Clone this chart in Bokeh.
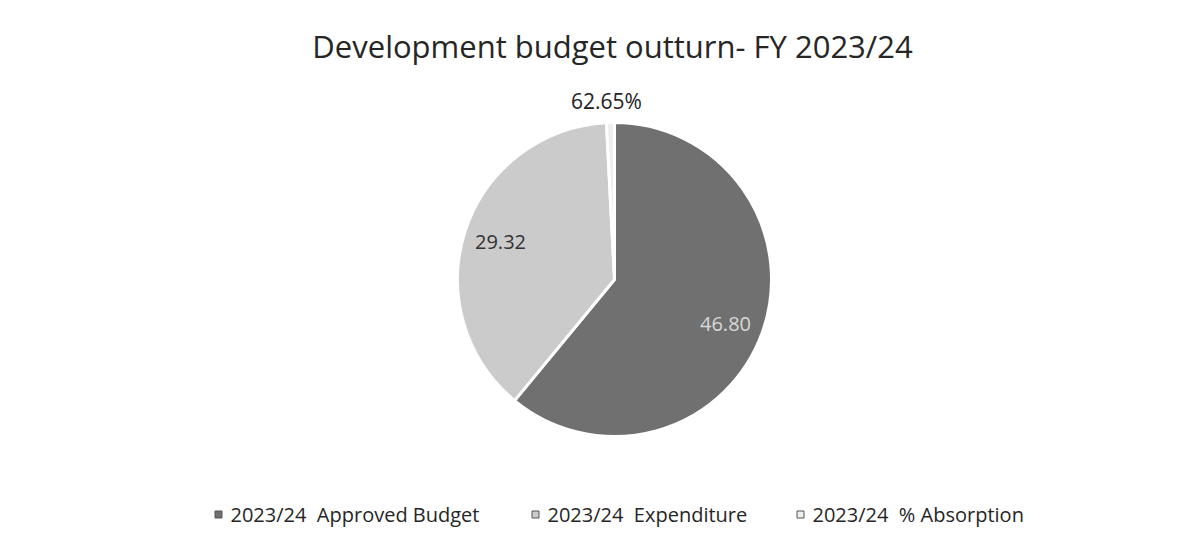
import math
from bokeh.plotting import figure
from bokeh.models import ColumnDataSource, Range1d
from bokeh.core.properties import value
from bokeh.embed import file_html
from bokeh.resources import INLINE

title = "Development budget outturn- FY 2023/24"
categories = ["2023/24  Approved Budget", "2023/24  Expenditure", "2023/24  % Absorption"]
values = [46.80, 29.32, 0.6265]
labels = ["46.80", "29.32", "62.65%"]
colors = ["#707070", "#cbcbcb", "#eeeeee"]

W, H = 1189, 547


def px(x, y):
    return x, H - y


p = figure(width=W, height=H, output_backend="svg", toolbar_location=None,
           x_range=Range1d(0, W), y_range=Range1d(0, H), min_border=0)
p.axis.visible = False
p.grid.visible = False
p.outline_line_color = None
p.background_fill_color = "white"
p.border_fill_color = "white"

cx, cy = px(614, 279)
r = 157
total = sum(values)
starts, ends = [], []
cum = 0.0
for v in values:
    a0 = math.pi / 2 - 2 * math.pi * (cum + v) / total
    a1 = math.pi / 2 - 2 * math.pi * cum / total
    starts.append(a0)
    ends.append(a1)
    cum += v

src = ColumnDataSource(dict(start=starts, end=ends, color=colors, cat=categories))
p.wedge(x=cx, y=cy, radius=r, start_angle="start", end_angle="end",
        fill_color="color", line_color="white", line_width=3, source=src)

# data labels
lab_pos = [px(725, 323), px(500, 241), px(606, 100)]
lab_colors = ["#d8d8d8", "#333333", "#222222"]
lab_sizes = ["20px", "20px", "21px"]
for (lx, ly), t, c, fs in zip(lab_pos, labels, lab_colors, lab_sizes):
    p.text(x=[lx], y=[ly], text=[t], text_font=value("Open Sans"), text_font_size=fs,
           text_color=c, text_align="center", text_baseline="middle")

# title
tx, ty = px(612, 45)
p.text(x=[tx], y=[ty], text=[title], text_font=value("Open Sans"), text_font_size="31px",
       text_color="#262626", text_align="center", text_baseline="middle")

# legend
leg_x = [218, 535, 800]
for x0, cat, col in zip(leg_x, categories, colors):
    mx, my = px(x0, 514)
    p.scatter(x=[mx], y=[my], marker="square", size=7, fill_color=col,
              line_color="#555555", line_width=1)
    p.text(x=[mx + 12], y=[my], text=[cat.replace("  ", " \u00a0")],
           text_font=value("Open Sans"), text_font_size="20px",
           text_color="#262626", text_align="left", text_baseline="middle")

open("out.html", "w").write(file_html(p, INLINE))
